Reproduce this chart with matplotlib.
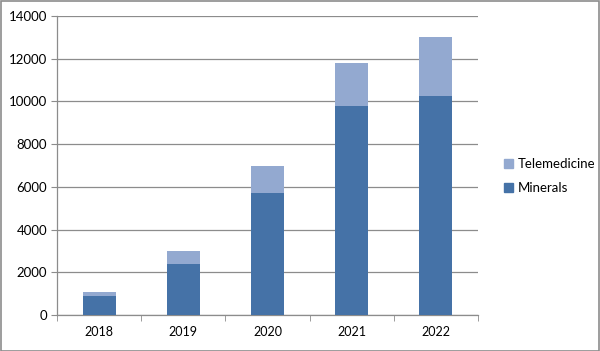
import matplotlib
matplotlib.use("Agg")
import matplotlib.pyplot as plt
from matplotlib.patches import Rectangle
import numpy as np

years = ["2018", "2019", "2020", "2021", "2022"]
minerals = [900, 2400, 5700, 9800, 10250]
telemedicine = [200, 600, 1300, 2000, 2750]

c_min = "#4572A7"
c_tel = "#93A9D0"
grid_c = "#8c8c8c"

plt.rcParams['font.family'] = ['Lato', 'DejaVu Sans']

fig = plt.figure(figsize=(6.0, 3.51), dpi=100)
W, H = 600, 351
ax = fig.add_axes([57 / W, 1 - 315 / H, (478 - 57) / W, (315 - 16) / H])

x = np.arange(len(years))
bw = 0.39
ax.bar(x, minerals, width=bw, color=c_min, label="Minerals", zorder=3)
ax.bar(x, telemedicine, width=bw, bottom=minerals, color=c_tel, label="Telemedicine", zorder=3)

ax.set_xlim(-0.5, len(years) - 0.5)
ax.set_ylim(0, 14000)
ax.set_yticks(np.arange(0, 14001, 2000))
ax.set_xticks(x)
ax.set_xticklabels(years)
ax.set_xticks(np.arange(-0.5, len(years), 1), minor=True)
ax.tick_params(axis='x', which='major', length=0, pad=8, labelsize=9)
ax.tick_params(axis='x', which='minor', length=4, color=grid_c, direction='out')
ax.tick_params(axis='y', length=4, color=grid_c, direction='out', labelsize=9.5, pad=3)
ax.yaxis.grid(True, color=grid_c, linewidth=0.9, zorder=0)
for s in ['top', 'right']:
    ax.spines[s].set_visible(False)
for s in ['left', 'bottom']:
    ax.spines[s].set_color(grid_c)
    ax.spines[s].set_linewidth(0.9)

leg = fig.legend(handles=[Rectangle((0, 0), 1, 1, color=c_tel), Rectangle((0, 0), 1, 1, color=c_min)],
                 labels=["Telemedicine", "Minerals"],
                 loc='upper left', bbox_to_anchor=(492 / W, 1 - 146 / H),
                 frameon=False, fontsize=9.5, handlelength=0.7, handleheight=0.7,
                 handletextpad=0.35, labelspacing=0.9)

border = Rectangle((0.5 / W, 0.5 / H), 1 - 1.5 / W, 1 - 1.5 / H, transform=fig.transFigure,
                   fill=False, edgecolor="#8c8c8c", linewidth=1.2)
fig.patches.append(border)

fig.savefig("out.png", dpi=100)
